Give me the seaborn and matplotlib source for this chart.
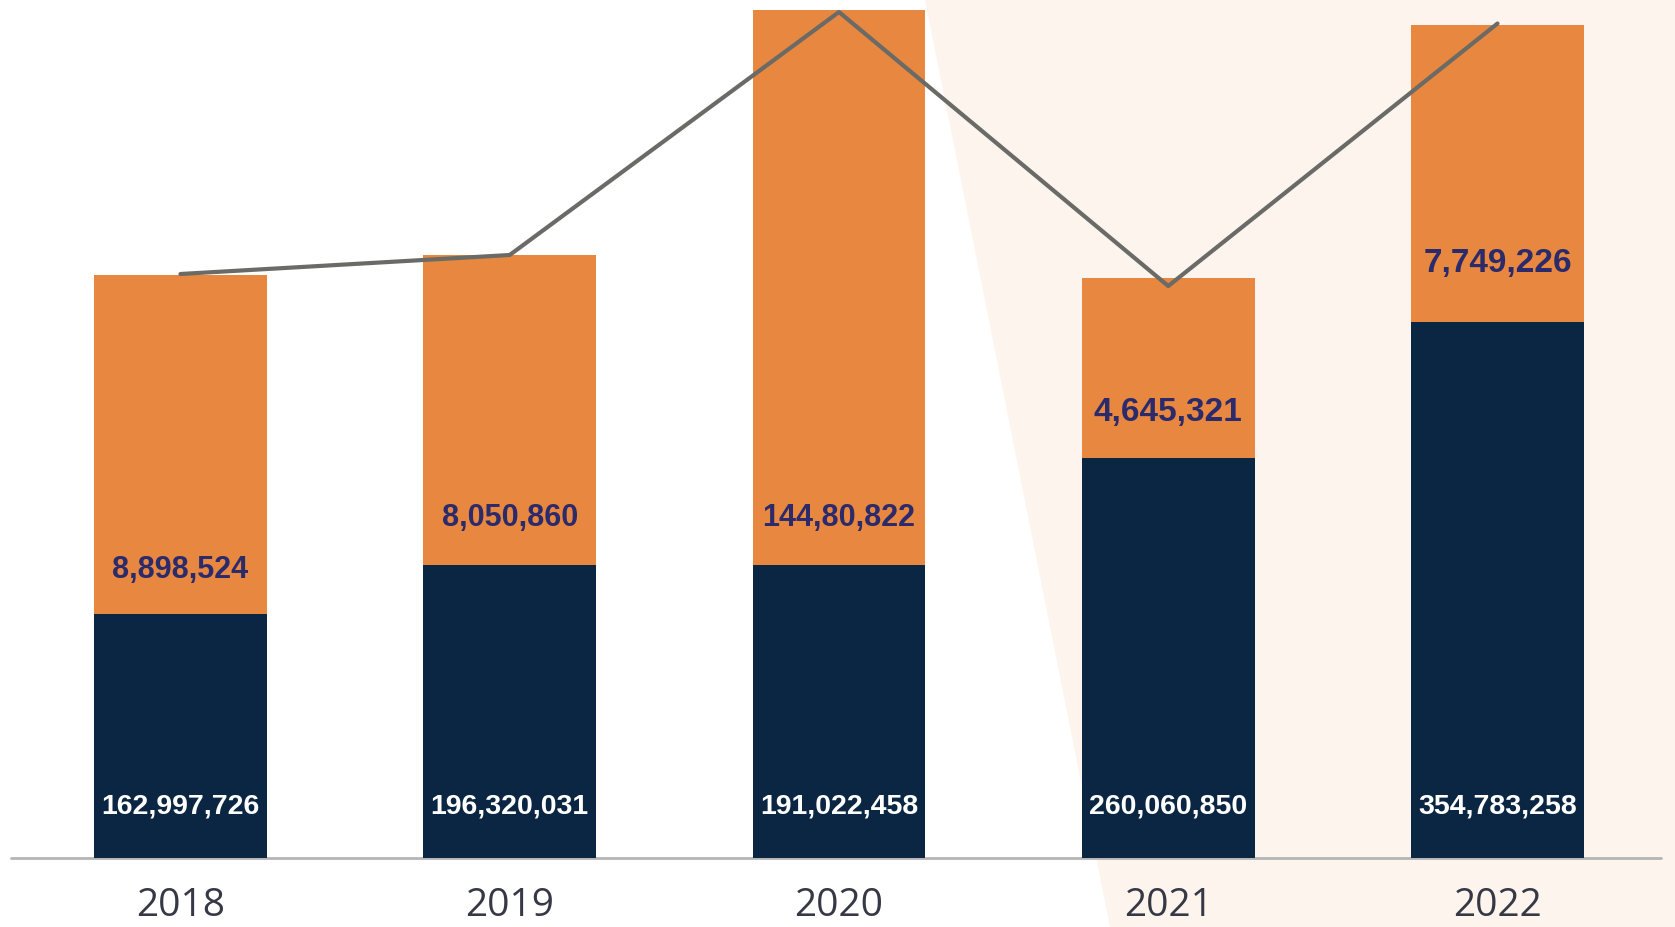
import numpy as np
import pandas as pd
import matplotlib
matplotlib.use('Agg')
import matplotlib.pyplot as plt
import matplotlib.patches as mpatches
import seaborn as sns

# dados (alturas no desenho, em unidades do gráfico; rótulos como aparecem)
anos = ['2018', '2019', '2020', '2021', '2022']
altura_azul = [244, 293, 293, 400, 536.5]
altura_laranja = [339.5, 310, 555, 180, 297]
linha_valores = [584, 603, 846, 572, 834.5]
rotulo_azul = ['162,997,726', '196,320,031', '191,022,458', '260,060,850', '354,783,258']
rotulo_laranja = ['8,898,524', '8,050,860', '144,80,822', '4,645,321', '7,749,226']

LARANJA = '#E8873F'
AZUL = '#0A2642'

df = pd.DataFrame({'ano': anos, 'azul': altura_azul, 'laranja': altura_laranja})
df['total'] = df['azul'] + df['laranja']

sns.set_style('white')
plt.rcParams['font.family'] = ['Liberation Sans', 'DejaVu Sans']

fig = plt.figure(figsize=(16.75, 9.27), dpi=100)
fig.patch.set_facecolor('white')

# faixa clara à direita
fundo = mpatches.Polygon([(925 / 1675, 1), (1, 1), (1, 0), (1110 / 1675, 0)],
                         closed=True, transform=fig.transFigure,
                         facecolor='#FDF4EE', edgecolor='none', zorder=-5)
fig.patches.append(fundo)

ax = fig.add_axes([0, 0, 1, 1])
ax.set_facecolor('none')

sns.barplot(data=df, x='ano', y='total', color=LARANJA, width=0.525,
            saturation=1, linewidth=0, ax=ax, zorder=2)
sns.barplot(data=df, x='ano', y='azul', color=AZUL, width=0.525,
            saturation=1, linewidth=0, ax=ax, zorder=3)

sns.lineplot(x=np.arange(len(anos)), y=linha_valores, color='#6A6A66',
             linewidth=3, ax=ax, zorder=4)

ax.set_xlim(-0.548, 4.539)
ax.set_ylim(-69, 858)

# linha de base
ax.plot([-0.515, 4.496], [0, 0], color='#B5B5B5', linewidth=2, zorder=1)

tam_laranja = [22, 22, 22, 24, 24]
pos_laranja = [288, 340, 340, 446, 595]
for i in range(len(anos)):
    ax.text(i, 52, rotulo_azul[i], ha='center', va='center', color='white',
            fontsize=20.5, fontweight='bold', zorder=5)
    ax.text(i, pos_laranja[i], rotulo_laranja[i], ha='center', va='center',
            color='#2B2A6B', fontsize=tam_laranja[i], fontweight='bold', zorder=5)
    ax.text(i, -48, anos[i], ha='center', va='center', color='#363845',
            fontsize=28, family='Open Sans', zorder=5)

ax.set_xlabel('')
ax.set_ylabel('')
ax.set_xticks([])
ax.set_yticks([])
for s in ax.spines.values():
    s.set_visible(False)

fig.savefig('out.png', dpi=100)
